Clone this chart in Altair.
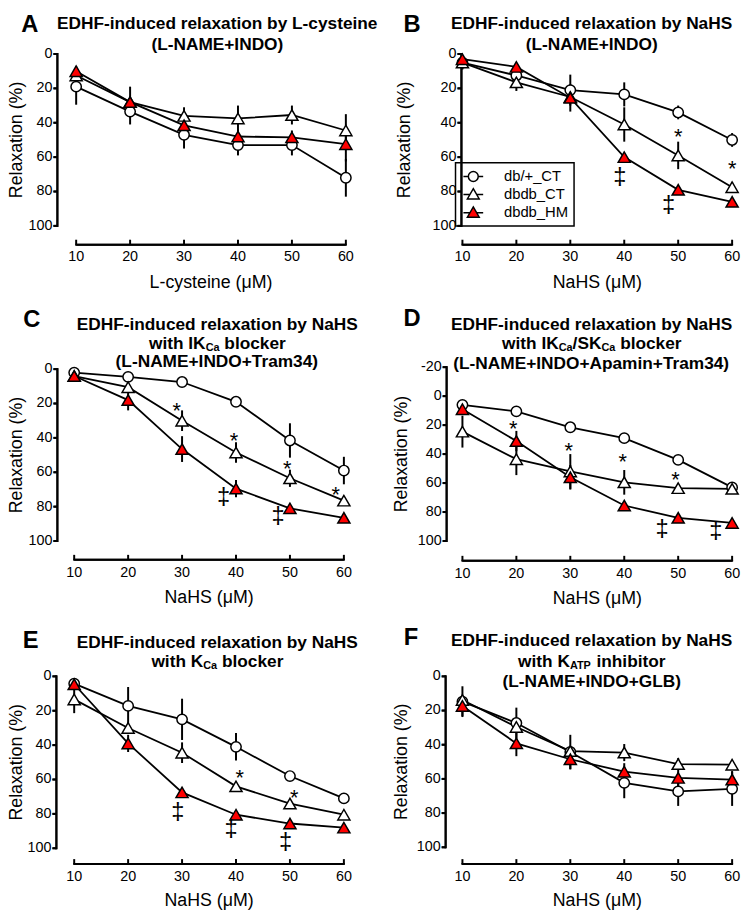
import altair as alt
import pandas as pd

FONT = "Liberation Sans"

# ---------------- data ----------------
conc = [10, 20, 30, 40, 50, 60]
series = ["db/+_CT", "dbdb_CT", "dbdb_HM"]

# Panel A (L-cysteine)
A_ct = [19, 33.5, 47, 53, 53, 72]
A_ct_err = [10.5, 7.5, 8, 6, 6, 11]
A_dct = [12.5, 28, 36, 37.5, 35.5, 44.5]
A_dct_err = [3, 3, 5, 7.5, 5.5, 9.5]
A_hm = [10, 28, 41.5, 48, 48.5, 52.5]
A_hm_err = [3, 9, 5, 4, 4, 10]

# Panel B
B_ct = [5, 12.5, 21, 23.5, 34, 50]
B_ct_err = [4, 3, 9, 7, 4, 4]
B_dct = [5, 16.5, 25, 41, 59, 77.5]
B_dct_err = [2, 5, 3, 10, 8, 3]
B_hm = [3, 7.5, 25.5, 60, 79, 86]
B_hm_err = [2, 2, 8, 2, 2, 1]
B_star_x = [50, 60]
B_star_y = [45, 64]
B_dag_x = [39.2, 48.2]
B_dag_y = [72, 88.5]

# Panel C
C_ct = [2, 4.5, 7.5, 19, 41.5, 59]
C_ct_err = [1, 1, 1, 2, 10, 8]
C_dct = [4, 10.5, 30, 48.5, 63.5, 76.5]
C_dct_err = [1, 3, 6, 6, 5, 2]
C_hm = [4, 18, 46.5, 69.5, 81, 86.5]
C_hm_err = [1, 6, 7.5, 5, 1.5, 1]
C_star_x = [29, 39.6, 49.5, 58.5]
C_star_y = [21.4, 38.5, 54.8, 70]
C_dag_x = [37.7, 47.8]
C_dag_y = [75.2, 86]

# Panel D
D_ct = [6, 10.5, 21.5, 29, 44, 63]
D_ct_err = [2, 1, 1, 1, 1, 1]
D_dct = [24.5, 43.5, 52, 59.5, 63.5, 64]
D_dct_err = [11, 11, 12, 8.5, 3, 1]
D_hm = [9, 31, 56, 75.5, 84, 87.5]
D_hm_err = [2, 7, 8.5, 2, 1.5, 1.5]
D_star_x = [19.4, 29.7, 39.7, 49.5]
D_star_y = [19.3, 34, 41.6, 54]
D_dag_x = [47, 57]
D_dag_y = [92.7, 93.6]

# Panel E
E_ct = [4.2, 17.2, 25, 41, 58, 71]
E_ct_err = [2, 11, 12, 8, 1.5, 1.5]
E_dct = [13.4, 30, 44.4, 64, 74, 80.5]
E_dct_err = [8, 2, 6, 2, 2, 1]
E_hm = [4.6, 39, 67.5, 80.5, 85.6, 88]
E_hm_err = [1, 5, 1.5, 1.5, 1.5, 1]
E_star_x = [40.7, 50.8]
E_star_y = [55.9, 67.4]
E_dag_x = [29.2, 39.1, 49.2]
E_dag_y = [79.3, 89.5, 97.1]

# Panel F
F_ct = [14.8, 27.3, 44.2, 62.3, 67.3, 65.8]
F_ct_err = [9, 9, 10, 9, 8.5, 10]
F_dct = [13.8, 29.6, 43.7, 44.6, 51.3, 51.7]
F_dct_err = [2, 2, 2, 5, 3.5, 2]
F_hm = [17.3, 39.2, 48.5, 55.8, 59.4, 60.4]
F_hm_err = [6, 7.5, 6, 5, 5, 5]

y_ticks = [0, 20, 40, 60, 80, 100]
y_ticks_D = [-20, 0, 20, 40, 60, 80, 100]
x_tick_labels = ["10", "20", "30", "40", "50", "60"]
y_title = "Relaxation (%)"

# ---------------- layout helpers ----------------
TITLE_FS = 17.5
SUB_FS = 11
SUB_DY = 4
LABEL_FS = 14.5
AXTITLE_FS = 18
ONE = pd.DataFrame({"k": [0]})

BOLD_W = {
    "E": 667, "D": 722, "H": 722, "F": 611, "-": 333, "i": 278, "n": 611, "d": 611,
    "u": 611, "c": 556, "e": 556, " ": 278, "r": 389, "l": 278, "a": 556, "x": 556,
    "t": 333, "o": 611, "b": 611, "y": 556, "L": 611, "s": 556, "N": 722, "S": 667,
    "w": 778, "I": 278, "K": 722, "C": 722, "k": 556, "/": 278, "T": 611, "m": 889,
    "3": 556, "4": 556, "(": 333, ")": 333, "M": 833, "O": 778, "+": 584, "A": 722,
    "p": 611, "G": 778, "B": 722, "P": 667, "h": 611,
}


def text_w(s, fs):
    return sum(BOLD_W.get(ch, 556) for ch in s) * fs / 1000.0


def vtext(txt, x, y, fs, bold=False, align="center", angle=0, dy=0):
    kw = dict(align=align, baseline="middle", font=FONT, fontSize=fs, color="black",
              fontWeight="bold" if bold else "normal", dy=dy)
    if angle:
        kw["angle"] = angle
    return (alt.Chart(ONE).mark_text(**kw)
            .encode(x=alt.value(x), y=alt.value(y), text=alt.value(txt)))


def vrect(x1, x2, y1, y2):
    return (alt.Chart(ONE).mark_rect(color="black", opacity=1)
            .encode(x=alt.value(x1), x2=alt.value(x2), y=alt.value(y1), y2=alt.value(y2)))


def title_layers(lines, cx, ys):
    out = []
    for segs, cy in zip(lines, ys):
        if isinstance(segs, str):
            segs = [(segs, False)]
        items = []
        total = 0.0
        for t, sub in segs:
            fs = SUB_FS if sub else TITLE_FS
            w = text_w(t, fs)
            items.append((t, fs, sub, w))
            total += w
        x = cx - total / 2.0
        for t, fs, sub, w in items:
            lead = len(t) - len(t.lstrip(" "))
            tx = x + text_w(" " * lead, fs)
            out.append(vtext(t.strip(" "), tx, cy, fs, bold=True, align="left",
                             dy=SUB_DY if sub else 0))
            x += w
    return out


def make_df(ct, cte, dct, dcte, hm, hme):
    rows = []
    for name, vals, errs in [(series[0], ct, cte), (series[1], dct, dcte), (series[2], hm, hme)]:
        for c, v, e in zip(conc, vals, errs):
            rows.append({"conc": c, "value": v, "series": name, "lo": v - e, "hi": v + e})
    return pd.DataFrame(rows)


LEG_PATHS = [
    "M-1.25,0L-0.625,0M0.625,0L1.25,0M-0.625,0A0.625,0.625,0,1,1,0.625,0A0.625,0.625,0,1,1,-0.625,0Z",
    "M-1.25,0.1L-0.45,0.1M0.45,0.1L1.25,0.1M0,-0.65L0.75,0.65L-0.75,0.65Z",
    "M-1.25,0.1L-0.45,0.1M0.45,0.1L1.25,0.1M0,-0.65L0.75,0.65L-0.75,0.65Z",
]


def panel(df, xlabel, ydom, yvals, yr, xr, xoff, yax, ytx, xtd, lines, ys, cx, letter, lpos, S,
          stars=None, dags=None, legend=False):
    # everything is shifted right by S so the offset axes sit inside the view
    x0, x1 = xr[0] + S, xr[1] + S
    ax = yax + S
    W = x1
    xay = yr[1] + xoff
    Hh = xay + 4

    def xdata(p):
        return 10 + (p - x0) * 50.0 / (x1 - x0)

    def ydata(p):
        return ydom[0] + (p - yr[0]) * float(ydom[1] - ydom[0]) / (yr[1] - yr[0])

    def ypix(v):
        return yr[0] + (v - ydom[0]) * float(yr[1] - yr[0]) / (ydom[1] - ydom[0])

    xs = alt.Scale(domain=[xdata(0), 60], range=[0, W], zero=False, nice=False)
    ysc = alt.Scale(domain=[ydom[0], ydata(Hh)], range=[yr[0], Hh], zero=False, nice=False)

    def X(f="conc"):
        return alt.X(f + ":Q", scale=xs, axis=None)

    def Y(f="value"):
        return alt.Y(f + ":Q", scale=ysc, axis=None)

    base = alt.Chart(df)
    layers = []
    layers.append(base.mark_line(color="black", strokeWidth=1.8).encode(
        x=X(), y=Y(), detail="series:N"))

    # ---- offset axes (several equivalent drawings, all at the same place) ----
    layers.append(vrect(ax - 1, ax + 1, yr[0] - 1, yr[1] + 1))
    for v in yvals:
        p = ypix(v)
        layers.append(vrect(ax - 4, ax, p - 1, p + 1))
    layers.append(vrect(x0 - 1, x1 + 1, xay - 1, xay + 1))
    layers.append(alt.Chart(pd.DataFrame({"conc": [xdata(ax)]}))
                  .mark_rule(color="black", strokeWidth=2)
                  .encode(x=X(), y=alt.value(yr[0] - 1), y2=alt.value(yr[1] + 1)))
    layers.append(alt.Chart(pd.DataFrame({"value": yvals, "xa": [xdata(ax - 4)] * len(yvals),
                                          "xb": [xdata(ax)] * len(yvals)}))
                  .mark_rule(color="black", strokeWidth=2)
                  .encode(x=X("xa"), x2="xb:Q", y=Y()))
    layers.append(alt.Chart(pd.DataFrame({"conc": [10], "c2": [60], "value": [ydata(xay)]}))
                  .mark_rule(color="black", strokeWidth=2)
                  .encode(x=X(), x2="c2:Q", y=Y()))

    ytdf = pd.DataFrame({"value": yvals, "lab": [str(v) for v in yvals]})
    layers.append(alt.Chart(ytdf).mark_text(align="right", baseline="middle", font=FONT,
                                            fontSize=LABEL_FS, color="black")
                  .encode(x=alt.value(ax - 5), y=Y(), text="lab:N"))
    xtdf = pd.DataFrame({"conc": conc, "lab": x_tick_labels})
    layers.append(alt.Chart(xtdf).mark_rule(color="black", strokeWidth=2)
                  .encode(x=X(), y=alt.value(xay - 5), y2=alt.value(xay)))
    layers.append(alt.Chart(xtdf).mark_text(align="center", baseline="middle", font=FONT,
                                            fontSize=LABEL_FS, color="black")
                  .encode(x=X(), y=alt.value(xay + 13), text="lab:N"))
    layers.append(vtext(y_title, ytx + S, (yr[0] + yr[1]) / 2.0, AXTITLE_FS, angle=270))
    layers.append(vtext(xlabel, (x0 + x1) / 2.0, xay + xtd, AXTITLE_FS))

    # ---- error bars and markers ----
    layers.append(base.mark_rule(color="black", strokeWidth=2).encode(
        x=X(), y=Y("lo"), y2="hi:Q"))
    specs = [("circle", "white", 110), ("triangle-up", "white", 150), ("triangle-up", "#ff0000", 150)]
    for name, (shape, fill, size) in zip(series, specs):
        layers.append(
            base.transform_filter(alt.datum.series == name)
            .mark_point(shape=shape, filled=True, fill=fill, stroke="black", strokeWidth=1.5,
                        size=size, opacity=1)
            .encode(x=X(), y=Y()))
    if stars:
        sdf = pd.DataFrame({"conc": stars[0], "value": stars[1]})
        layers.append(alt.Chart(sdf).mark_text(text="*", font=FONT, fontSize=22, color="black",
                                               baseline="alphabetic", dy=12.5)
                      .encode(x=X(), y=Y()))
    if dags:
        ddf = pd.DataFrame({"conc": dags[0], "value": dags[1]})
        layers.append(alt.Chart(ddf).mark_text(text="\u2021", font=FONT, fontSize=24, color="black",
                                               baseline="alphabetic", dy=6)
                      .encode(x=X(), y=Y()))
    if legend:
        ldf = pd.DataFrame({"leg": series, "conc": [10, 10, 10], "value": [0, 0, 0]})
        lg = alt.Legend(orient="none", legendX=-7 + S, legendY=139, title=None, strokeColor="black",
                        padding=5, rowPadding=0.5, symbolSize=256, symbolStrokeWidth=1.5,
                        symbolOpacity=1, symbolOffset=4, labelOffset=22,
                        labelFontSize=15, labelFont=FONT, labelColor="black",
                        labelExpr="datum.label + '\u00a0\u00a0'")
        layers.append(
            alt.Chart(ldf).transform_filter("datum.value > 1000")
            .mark_point(filled=False, strokeWidth=1.5, opacity=1, size=256)
            .encode(x=X(), y=Y(),
                    shape=alt.Shape("leg:N", scale=alt.Scale(domain=series, range=LEG_PATHS), legend=lg),
                    fill=alt.Fill("leg:N", scale=alt.Scale(domain=series, range=["white", "white", "#ff0000"]),
                                  legend=lg),
                    stroke=alt.Stroke("leg:N", scale=alt.Scale(domain=series, range=["black", "black", "black"]),
                                      legend=lg)))
    layers += title_layers(lines, cx + S, ys)
    layers.append(vtext(letter, lpos[0] + S, lpos[1], 24, bold=True))
    return alt.layer(*layers).properties(width=W, height=Hh)


T1 = "EDHF-induced relaxation by NaHS"
SL, SR = 23, 22
pA = panel(make_df(A_ct, A_ct_err, A_dct, A_dct_err, A_hm, A_hm_err), "L-cysteine (\u03bcM)",
           [0, 100], y_ticks, [29, 203], [2, 275], 19, -17, -58, 39,
           ["EDHF-induced relaxation by L-cysteine", "(L-NAME+INDO)"], [-1, 20], 145, "A", (-45, 0), SL)
pB = panel(make_df(B_ct, B_ct_err, B_dct, B_dct_err, B_hm, B_hm_err), "NaHS (\u03bcM)",
           [0, 100], y_ticks, [29, 203], [0, 273], 19, -1, -58, 39,
           [T1, "(L-NAME+INDO)"], [-1, 20], 131, "B", (-51, 0), SR,
           stars=(B_star_x, B_star_y), dags=(B_dag_x, B_dag_y), legend=True)
pC = panel(make_df(C_ct, C_ct_err, C_dct, C_dct_err, C_hm, C_hm_err), "NaHS (\u03bcM)",
           [0, 100], y_ticks, [35, 209], [0, 273], 19, -17, -58, 39,
           [T1, [("with IK", False), ("Ca", True), (" blocker", False)], "(L-NAME+INDO+Tram34)"],
           [-10, 10, 28], 145, "C", (-43, -15), SL,
           stars=(C_star_x, C_star_y), dags=(C_dag_x, C_dag_y))
pD = panel(make_df(D_ct, D_ct_err, D_dct, D_dct_err, D_hm, D_hm_err), "NaHS (\u03bcM)",
           [-20, 100], y_ticks_D, [33, 209], [0, 273], 20, -16, -61, 39,
           [T1, [("with IK", False), ("Ca", True), ("/SK", False), ("Ca", True), (" blocker", False)],
            "(L-NAME+INDO+Apamin+Tram34)"],
           [-10, 10, 30], 131, "D", (-51, -16), SR,
           stars=(D_star_x, D_star_y), dags=(D_dag_x, D_dag_y))
pE = panel(make_df(E_ct, E_ct_err, E_dct, E_dct_err, E_hm, E_hm_err), "NaHS (\u03bcM)",
           [0, 100], y_ticks, [26, 200], [0, 273], 16, -18, -58, 37,
           [T1, [("with K", False), ("Ca", True), (" blocker", False)]],
           [-8, 12], 145, "E", (-44, -10), SL,
           stars=(E_star_x, E_star_y), dags=(E_dag_x, E_dag_y))
pF = panel(make_df(F_ct, F_ct_err, F_dct, F_dct_err, F_hm, F_hm_err), "NaHS (\u03bcM)",
           [0, 100], y_ticks, [26, 199], [0, 273], 17, -17, -61, 37,
           [T1, [("with K", False), ("ATP", True), (" inhibitor", False)], "(L-NAME+INDO+GLB)"],
           [-10, 12, 32], 131, "F", (-52, -13), SR)

chart = (
    alt.concat(pA, pB, pC, pD, pE, pF, columns=2, spacing={"row": 87, "column": 96}, bounds="flush")
    .resolve_legend(shape="independent", fill="independent", stroke="independent")
    .resolve_scale(shape="independent", fill="independent", stroke="independent")
    .properties(padding={"left": 0, "top": 0, "right": 0, "bottom": 0})
    .configure_view(stroke=None)
    .configure_legend(strokeWidth=1.5)
)

chart.save("out.html", embed_options={"renderer": "svg", "actions": False})
